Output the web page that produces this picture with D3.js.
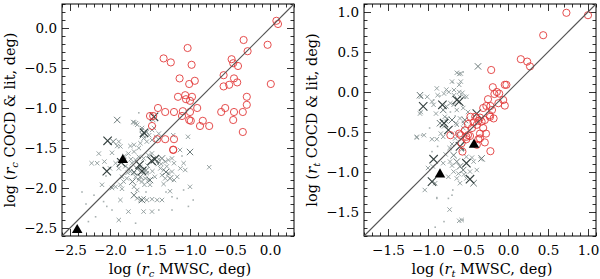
<!DOCTYPE html>
<html>
<head>
<meta charset="utf-8">
<script src="https://cdn.jsdelivr.net/npm/d3@7"></script>
<style>
  body { margin: 0; background: #fff; }
  svg text { font-family: "DejaVu Serif", serif; fill: #000; }
</style>
</head>
<body>
<svg id="chart" width="600" height="279"></svg>
<script>
// ---- data: left panel (r_c), log degrees ----
const leftDomain = [-2.6, 0.3];
const leftMajor = [-2.5, -2.0, -1.5, -1.0, -0.5, 0.0];

const leftCircles = [
  [0.08,0.09],[0.10,0.05],[-0.33,-0.15],[-0.03,-0.21],[-0.28,-0.29],[-1.03,-0.25],
  [-1.33,-0.38],[-1.24,-0.43],[-0.98,-0.46],[-0.48,-0.39],[-0.46,-0.44],[-0.40,-0.475],
  [-0.58,-0.59],[-1.13,-0.63],[-1.01,-0.70],[-0.94,-0.66],[-0.58,-0.73],[-0.51,-0.71],
  [-0.45,-0.63],[-0.41,-0.68],[0.01,-0.70],[-1.15,-0.86],[-1.06,-0.84],[-1.05,-0.89],
  [-1.00,-0.91],[-0.975,-0.86],[-0.29,-0.86],[-0.29,-0.96],[-1.40,-1.00],[-1.31,-1.05],
  [-1.20,-1.05],[-1.09,-1.04],[-1.00,-1.05],[-0.91,-1.00],[-1.10,-1.10],[-0.61,-1.05],
  [-0.56,-1.00],[-0.45,-1.05],[-0.34,-1.05],[-1.50,-1.10],[-1.46,-1.10],[-1.01,-1.15],
  [-0.99,-1.16],[-0.84,-1.16],[-0.46,-1.15],[-0.875,-1.225],[-0.76,-1.225],[-1.475,-1.225],
  [-0.34,-1.30],[-1.41,-1.39],[-1.31,-1.39],[-1.20,-1.39],[-1.21,-1.525],[-1.21,-1.52]
];

const leftBigX = [
  [-2.03,-1.41],[-2.04,-1.79],[-1.86,-1.68],[-1.60,-1.79],[-1.44,-1.64],[-1.48,-1.66],
  [-1.575,-1.31],[-1.45,-1.11],[-1.63,-1.71]
];

const leftMidX = [
  [-1.00,-1.55],[-1.50,-1.90],[-1.59,-1.34],[-1.70,-1.80],[-1.30,-1.80],[-1.96,-1.42],
  [-1.62,-1.86],[-1.25,-1.88],[-1.55,-1.78],[-1.66,-1.76],[-1.72,-1.92],[-1.35,-1.63],
  [-1.91,-1.15],[-1.60,-2.15],[-1.70,-2.09]
];

const leftSmallX = [
  [-1.70,-1.18],[-1.675,-1.19],[-1.60,-1.25],[-1.57,-1.32],[-1.54,-1.30],[-1.51,-1.34],
  [-1.475,-1.275],[-1.58,-1.38],[-1.62,-1.44],[-1.54,-1.42],[-1.475,-1.40],[-1.425,-1.36],
  [-1.39,-1.32],[-1.89,-1.42],[-1.91,-1.475],[-1.87,-1.48],[-2.14,-1.57],[-1.975,-1.56],
  [-1.745,-1.475],[-1.70,-1.46],[-1.64,-1.50],[-1.70,-1.545],[-1.77,-1.57],[-2.23,-1.69],
  [-2.16,-1.69],[-2.07,-1.67],[-1.93,-1.69],[-2.00,-1.755],[-1.89,-1.755],[-1.81,-1.73],
  [-1.77,-1.755],[-1.725,-1.69],[-1.68,-1.65],[-1.64,-1.61],[-1.58,-1.63],[-1.52,-1.59],
  [-1.475,-1.567],[-1.39,-1.64],[-1.31,-1.67],[-1.27,-1.65],[-1.225,-1.63],[-1.20,-1.69],
  [-1.745,-1.795],[-1.70,-1.815],[-1.58,-1.795],[-1.54,-1.815],[-1.68,-1.86],[-1.64,-1.90],
  [-1.60,-1.92],[-1.56,-1.88],[-1.52,-1.90],[-1.50,-1.96],[-1.70,-1.985],[-1.66,-2.025],
  [-1.79,-1.88],[-1.85,-1.86],[-1.83,-1.92],[-1.87,-1.96],[-1.93,-1.985],[-1.37,-1.755],
  [-1.33,-1.775],[-1.29,-1.73],[-1.27,-1.815],[-1.225,-1.795],[-1.35,-1.84],[-1.31,-1.88],
  [-1.20,-1.90],[-1.16,-1.86],[-1.12,-1.755],[-1.08,-1.69],[-1.00,-1.985],[-2.10,-1.96],
  [-1.975,-2.00],[-1.85,-2.01],[-1.66,-2.13],[-1.62,-2.15],[-1.58,-2.13],[-1.54,-2.15],
  [-1.475,-2.14],[-1.41,-2.15],[-1.35,-2.15],[-1.87,-2.15],[-1.77,-2.295],[-1.89,-2.40],
  [-1.58,-2.295],[-1.475,-2.295],[-1.71,-1.175],[-1.66,-1.21],[-1.60,-1.275],[-1.46,-1.15],
  [-1.45,-1.25],[-1.025,-1.36],[-1.21,-1.34],[-1.125,-1.525],[-1.06,-1.775],[-1.25,-2.04],
  [-0.76,-1.74],[-1.40,-1.70],[-1.44,-1.86],[-1.82,-1.60],[-1.33,-1.95],[-1.62,-1.74],
  [-1.53,-1.72],[-1.74,-1.64],[-1.47,-1.79],[-1.57,-1.96],[-1.78,-1.81],[-1.36,-1.70]
];

const leftDots = [
  [-2.20,-2.09],[-2.08,-2.17],[-2.04,-2.23],[-1.975,-2.275],[-1.39,-2.275],[-1.225,-2.11],
  [-1.16,-2.13],[-1.08,-2.025],[-1.02,-2.23],[-2.18,-2.36],[-2.27,-2.42],[-1.68,-2.44],
  [-1.225,-2.275],[-1.64,-1.06],[-2.30,-2.20],[-2.35,-2.05],[-0.96,-2.15],[-1.30,-2.05],
  [-1.55,-2.05],[-2.05,-1.85],[-1.10,-1.60]
];

const leftTriangles = [[-1.84,-1.65],[-2.41,-2.525]];

// ---- data: right panel (r_t), log degrees ----
const rightDomain = [-1.8, 1.1];
const rightMajor = [-1.5, -1.0, -0.5, 0.0, 0.5, 1.0];

const rightCircles = [
  [0.73,0.99],[1.00,0.96],[0.44,0.71],[0.16,0.41],[0.24,0.38],[0.275,0.32],[-0.21,0.275],
  [-0.04,0.09],[-0.02,0.09],[-0.19,0.06],[-0.14,0.00],[-0.11,-0.02],[-0.17,-0.025],
  [-0.06,-0.10],[-0.25,-0.09],[-0.27,-0.175],[-0.22,-0.175],[-0.04,-0.17],[-0.31,-0.20],
  [-0.20,-0.225],[-0.225,-0.31],[-0.18,-0.33],[-0.23,-0.29],[-0.41,-0.31],[-0.35,-0.32],
  [-0.47,-0.31],[-0.37,-0.36],[-0.33,-0.37],[-0.43,-0.38],[-0.50,-0.40],[-0.39,-0.41],
  [-0.31,-0.45],[-0.45,-0.45],[-0.54,-0.48],[-0.72,-0.54],[-0.61,-0.52],[-0.50,-0.54],
  [-0.35,-0.52],[-0.37,-0.59],[-0.52,-0.59],[-0.59,-0.54],[-0.52,-0.56],[-0.475,-0.55],
  [-0.35,-0.58],[-0.275,-0.52],[-0.29,-0.63],[-0.22,-0.74],[-0.57,-0.745],[-0.58,-0.64],
  [-0.39,-0.66],[-0.29,-0.35],[-0.12,-0.14]
];

const rightBigX = [
  [-1.06,-0.18],[-0.82,-0.16],[-0.61,-0.12],[-0.80,-0.39],[-0.745,-0.475],[-0.60,-0.68],
  [-0.93,-0.84],[-0.52,-0.89],[-0.475,-1.09],[-0.95,-1.12],[-0.64,-0.10],[-0.39,-0.27]
];

const rightMidX = [
  [-0.81,-0.225],[-0.85,-0.39],[-0.54,-0.35],[-0.33,-0.83],[-0.375,0.32],[-0.64,-0.87],
  [-0.56,-0.975],[-0.43,-1.14],[-0.68,-0.79],[-1.10,-0.04],[-0.70,-0.35],[-0.60,-0.93]
];

const rightSmallX = [
  [-0.64,0.24],[-0.61,0.225],[-0.59,0.13],[-0.89,0.045],[-0.77,0.03],[-0.675,0.025],
  [-0.57,-0.01],[-0.52,-0.06],[-1.01,-0.06],[-0.60,-0.06],[-1.10,-0.27],[-0.93,-0.16],
  [-0.77,-0.18],[-0.68,-0.16],[-0.64,-0.225],[-0.56,-0.20],[-0.50,-0.25],[-0.79,-0.31],
  [-0.77,-0.37],[-0.64,-0.41],[-0.60,-0.33],[-0.64,-0.52],[-0.56,-0.45],[-1.14,-0.56],
  [-1.14,-0.57],[-0.95,-0.59],[-0.89,-0.59],[-0.81,-0.56],[-0.73,-0.70],[-0.52,-0.81],
  [-0.94,-0.93],[-0.81,-0.89],[-0.725,-0.87],[-0.43,-0.87],[-0.45,-0.82],[-1.00,-0.95],
  [-0.68,-0.995],[-0.62,-1.02],[-0.475,-0.995],[-0.39,-0.975],[-0.745,-1.06],[-0.64,-1.08],
  [-0.52,-1.08],[-0.60,-1.14],[-0.91,-1.14],[-1.04,-1.225],[-0.73,-1.47],[-0.58,-1.60],
  [-0.61,-1.61],[-0.59,0.23],[-0.70,0.13],[-0.61,0.09],[-1.09,-0.06],[-0.88,-0.04],
  [-0.80,-0.02],[-0.74,0.00],[-0.675,-0.04],[-0.61,0.00],[-0.55,-0.06],[-0.95,-0.12],
  [-0.72,-0.14],[-1.09,-0.25],[-0.90,-0.27],[-0.76,-0.33],[-0.65,-0.39],[-0.55,-0.39],
  [-0.80,-0.43],[-0.84,-0.52],[-1.05,-0.54],[-0.70,-0.65],[-0.66,-0.58],[-0.55,-0.62],
  [-0.34,-0.84],[-0.58,-0.72],[-0.78,-0.78],[-0.70,-0.92],[-0.55,-1.03]
];

const rightDots = [
  [-0.69,-1.225],[-0.745,-1.33],[-0.89,-1.33],[-0.80,-1.62],[-0.91,-1.69],[-0.89,-1.32],
  [-0.70,-1.29],[-0.56,-1.60],[-0.95,-0.745],[-1.08,-0.54],[-0.56,0.25],[-0.69,0.12],
  [-0.93,-0.10],[-0.85,-0.05],[-0.72,-0.25],[-0.66,-0.30],[-0.98,-0.45],[-0.88,-0.68]
];

const rightTriangles = [[-0.85,-1.03],[-0.425,-0.66]];

// ---- drawing ----
const svg = d3.select('#chart');
const H = 232;
const yTop = 4;

const xPath = h => `M${-h},${-h}L${h},${h}M${-h},${h}L${h},${-h}`;

function panel(opts) {
  const x = d3.scaleLinear().domain(opts.domain).range([opts.left, opts.left + 232]);
  const y = d3.scaleLinear().domain(opts.domain).range([yTop + H, yTop]);
  const minor = d3.range(Math.round(opts.domain[0] * 10), Math.round(opts.domain[1] * 10) + 1)
    .filter(i => i % 5 !== 0)
    .map(i => i / 10);
  const fmt = d3.format('.1f');
  const g = svg.append('g');

  // box ticks, all four sides, pointing inward
  const axes = [
    [d3.axisBottom(x), `translate(0,${yTop + H})`, 9],
    [d3.axisTop(x), `translate(0,${yTop})`, 0],
    [d3.axisLeft(y), `translate(${opts.left},0)`, 5],
    [d3.axisRight(y), `translate(${opts.left + 232},0)`, 0]
  ];
  axes.forEach(([ax, tr, pad]) => {
    g.append('g').attr('transform', tr)
      .call(ax.tickValues(minor).tickSizeInner(-3.5).tickSizeOuter(0).tickFormat(''))
      .call(s => s.select('.domain').remove());
    g.append('g').attr('transform', tr)
      .call(ax.tickValues(opts.major).tickSizeInner(-7).tickSizeOuter(0)
        .tickPadding(pad).tickFormat(pad ? fmt : ''))
      .call(s => s.select('.domain').remove())
      .call(s => s.selectAll('text').attr('font-size', 13.5).attr('font-family', '"DejaVu Serif", serif'));
  });
  g.selectAll('.tick line').attr('stroke', '#000').attr('stroke-width', 0.8);

  g.append('rect')
    .attr('x', opts.left).attr('y', yTop).attr('width', 232).attr('height', H)
    .attr('fill', 'none').attr('stroke', '#000').attr('stroke-width', 1);

  const plot = g.append('g');

  plot.selectAll('.dot').data(opts.dots).join('rect')
    .attr('x', d => x(d[0]) - 0.8).attr('y', d => y(d[1]) - 0.8)
    .attr('width', 1.6).attr('height', 1.6).attr('fill', '#a9b1b1');

  plot.selectAll('.sx').data(opts.smallX).join('path')
    .attr('d', xPath(2.2))
    .attr('transform', d => `translate(${x(d[0])},${y(d[1])})`)
    .attr('stroke', '#8d9a9a').attr('stroke-width', 0.9).attr('fill', 'none');

  plot.selectAll('.mx').data(opts.midX).join('path')
    .attr('d', xPath(3.2))
    .attr('transform', d => `translate(${x(d[0])},${y(d[1])})`)
    .attr('stroke', '#6c7a7a').attr('stroke-width', 1).attr('fill', 'none');

  plot.selectAll('.bx').data(opts.bigX).join('path')
    .attr('d', xPath(4.2))
    .attr('transform', d => `translate(${x(d[0])},${y(d[1])})`)
    .attr('stroke', '#34403f').attr('stroke-width', 1.1).attr('fill', 'none');

  plot.selectAll('circle').data(opts.circles).join('circle')
    .attr('cx', d => x(d[0])).attr('cy', d => y(d[1])).attr('r', 3.6)
    .attr('fill', 'none').attr('stroke', '#e23a3a').attr('stroke-width', 0.9);

  // one-to-one line
  g.append('line')
    .attr('x1', x(opts.domain[0])).attr('y1', y(opts.domain[0]))
    .attr('x2', x(opts.domain[1])).attr('y2', y(opts.domain[1]))
    .attr('stroke', '#555').attr('stroke-width', 1.1);

  plot.selectAll('.tri').data(opts.triangles).join('path')
    .attr('d', d3.symbol(d3.symbolTriangle, 48))
    .attr('transform', d => `translate(${x(d[0])},${y(d[1])})`)
    .attr('fill', '#000');

  // axis titles
  const xt = g.append('text')
    .attr('x', opts.left + 118).attr('y', 274)
    .attr('text-anchor', 'middle').attr('font-size', 14.5);
  xt.append('tspan').text('log (');
  xt.append('tspan').attr('font-style', 'italic').text('r');
  xt.append('tspan').attr('font-style', 'italic').attr('font-size', 10).attr('dy', 3).text(opts.sub);
  xt.append('tspan').attr('dy', -3).text(' MWSC, deg)');

  const yt = g.append('text')
    .attr('transform', `translate(${opts.left - 47},${yTop + H / 2}) rotate(-90)`)
    .attr('text-anchor', 'middle').attr('font-size', 14.5);
  yt.append('tspan').text('log (');
  yt.append('tspan').attr('font-style', 'italic').text('r');
  yt.append('tspan').attr('font-style', 'italic').attr('font-size', 10).attr('dy', 3).text(opts.sub);
  yt.append('tspan').attr('dy', -3).text(' COCD & lit, deg)');
}

panel({
  left: 62, domain: leftDomain, major: leftMajor, sub: 'c',
  circles: leftCircles, bigX: leftBigX, midX: leftMidX, smallX: leftSmallX,
  dots: leftDots, triangles: leftTriangles
});

panel({
  left: 364, domain: rightDomain, major: rightMajor, sub: 't',
  circles: rightCircles, bigX: rightBigX, midX: rightMidX, smallX: rightSmallX,
  dots: rightDots, triangles: rightTriangles
});
</script>
</body>
</html>
